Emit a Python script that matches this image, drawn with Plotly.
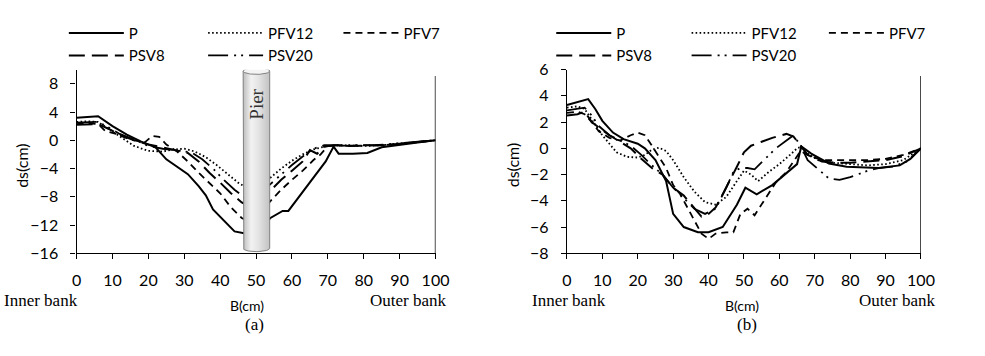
import numpy as np
import plotly.graph_objects as go

# ---------------- data: chart (a) ----------------
A_P_x = [0, 3, 6, 10, 14, 18, 22, 25, 28, 31, 34, 36, 38, 41, 44, 47, 50, 54, 57.4, 59, 64, 69.4, 71.6, 73, 77, 81, 85, 90, 95, 100]
A_P_y = [3.2, 3.3, 3.4, 2.0, 0.8, -0.2, -1.0, -2.7, -3.7, -4.8, -6.5, -7.8, -9.8, -11.3, -12.9, -13.2, -13.0, -11.0, -10.0, -10.0, -6.6, -3.0, -0.9, -1.9, -1.9, -1.8, -1.0, -0.6, -0.3, 0.0]

A_PFV12_x = [0, 3, 6, 9, 12, 16, 20, 24, 27, 30, 33, 36, 39, 42, 45, 47, 50, 54, 57, 60, 63, 66, 69, 72, 76, 80, 85, 90, 95, 100]
A_PFV12_y = [2.6, 2.7, 2.6, 1.6, 0.5, -0.8, -1.5, -1.6, -1.3, -1.2, -1.6, -2.4, -3.5, -4.8, -6.0, -6.6, -6.5, -5.3, -4.0, -2.9, -2.0, -1.3, -0.9, -0.7, -0.8, -0.8, -0.7, -0.5, -0.2, 0.0]

A_PFV7_x = [0, 3, 6, 8, 11, 15, 19, 21, 23, 25, 28, 31, 34, 37, 40, 43, 46, 48, 50, 54, 57, 60, 63, 66, 68, 70, 75, 80, 85, 90, 95, 100]
A_PFV7_y = [2.3, 2.4, 2.3, 1.3, 0.9, 0.1, -0.3, 0.6, 0.5, -0.6, -1.6, -3.0, -4.6, -6.0, -7.5, -9.5, -11.0, -11.5, -11.3, -8.6, -7.0, -5.6, -4.3, -2.8, -2.0, -0.8, -0.8, -0.8, -0.7, -0.5, -0.2, 0.0]

A_PSV8_x = [0, 3, 6, 9, 12, 16, 20, 24, 28, 31, 34, 37, 40, 43, 46, 48, 50, 54, 57, 60, 63, 65, 67, 69, 72, 76, 80, 85, 90, 95, 100]
A_PSV8_y = [2.2, 2.3, 2.3, 1.6, 0.8, 0.0, -0.6, -1.0, -1.4, -1.8, -3.0, -4.6, -6.0, -7.5, -8.8, -9.3, -9.2, -7.2, -5.6, -4.3, -3.0, -1.4, -1.9, -0.9, -0.7, -0.8, -0.8, -0.7, -0.5, -0.2, 0.0]

A_PSV20_x = [0, 3, 6, 9, 12, 16, 20, 24, 28, 32, 35, 38, 41, 44, 47, 50, 54, 57, 60, 63, 66, 69, 73, 78, 83, 88, 93, 97, 100]
A_PSV20_y = [2.5, 2.6, 2.6, 1.8, 0.9, 0.1, -0.8, -1.2, -1.4, -1.7, -2.7, -4.0, -5.6, -7.0, -8.2, -8.0, -6.2, -4.8, -3.5, -2.3, -1.2, -0.7, -0.7, -0.8, -0.7, -0.5, -0.3, -0.1, 0.0]

# ---------------- data: chart (b) ----------------
B_P_x = [0, 3, 6, 8, 10, 13, 16, 20, 22, 25, 28, 30, 33, 37, 40, 44, 48, 50.4, 53.6, 58, 62, 65, 66.2, 69, 74, 79, 88, 94, 97, 100]
B_P_y = [3.3, 3.5, 3.75, 3.0, 2.1, 1.2, 0.7, 0.35, 0.0, -0.9, -2.5, -5.0, -6.0, -6.4, -6.4, -6.0, -4.3, -3.0, -3.5, -2.8, -1.9, -1.2, 0.15, -0.4, -1.15, -1.4, -1.5, -1.3, -0.8, 0.0]

B_PFV12_x = [0, 3, 5, 7, 10, 14, 17, 20, 22, 24, 26, 28, 30, 33, 36, 39, 42, 45, 48, 50, 52, 54, 57, 60, 63, 65, 66, 68, 71, 75, 80, 85, 90, 95, 100]
B_PFV12_y = [3.1, 3.2, 3.0, 2.2, 1.0, -0.3, -0.65, -0.7, -0.5, -0.1, 0.05, -0.2, -0.9, -2.2, -3.3, -4.1, -4.3, -3.7, -2.5, -1.7, -2.0, -2.5, -1.8, -1.2, -0.5, 0.0, 0.1, -0.4, -0.9, -1.1, -1.2, -1.3, -1.2, -0.9, 0.0]

B_PFV7_x = [0, 3, 5, 7, 9, 12, 15, 18, 20, 22, 24, 26, 28, 30, 32, 35, 38, 40, 42, 45, 47, 49, 51, 53, 56, 59, 62, 64, 66, 68, 72, 76, 80, 85, 90, 95, 100]
B_PFV7_y = [2.7, 2.8, 2.6, 2.0, 1.3, 0.8, 0.6, 1.0, 1.2, 1.0, 0.2, -0.6, -1.5, -2.8, -3.5, -5.0, -6.5, -6.9, -6.5, -6.4, -6.4, -5.0, -4.6, -5.1, -3.8, -2.6, -1.8, -1.0, -0.2, -0.5, -0.9, -0.9, -0.9, -0.9, -0.8, -0.5, 0.0]

B_PSV8_x = [0, 3, 5, 7, 9, 12, 15, 18, 21, 24, 27, 30, 33, 36, 38, 40, 42, 44, 46, 48, 50, 52, 55, 58, 62, 64, 66, 68, 72, 76, 80, 85, 90, 95, 100]
B_PSV8_y = [2.5, 2.6, 2.8, 2.0, 1.6, 1.0, 0.5, 0.0, -0.8, -1.5, -2.0, -3.0, -3.6, -4.6, -5.2, -5.0, -4.5, -3.5, -2.5, -1.4, -0.3, 0.2, 0.5, 0.8, 1.1, 0.9, 0.2, -0.5, -1.0, -1.1, -1.1, -1.0, -0.9, -0.6, 0.0]

B_PSV20_x = [0, 3, 5, 7, 9, 12, 15, 18, 21, 24, 27, 30, 33, 36, 39, 42, 45, 47, 49, 51, 53, 56, 59, 62, 64, 66, 68, 71, 74, 77, 80, 85, 88, 92, 96, 100]
B_PSV20_y = [2.9, 3.0, 3.1, 2.5, 1.7, 1.0, 0.6, 0.2, -0.5, -1.3, -2.0, -3.0, -3.8, -4.6, -5.0, -4.6, -3.0, -1.8, -1.5, -1.5, -1.6, -0.8, 0.0, 0.6, 1.0, 0.2, -0.9, -1.6, -2.3, -2.4, -2.2, -1.7, -1.5, -1.4, -1.0, 0.0]

SERIES = ["P", "PFV12", "PFV7", "PSV8", "PSV20"]
X_TICKS = [0, 10, 20, 30, 40, 50, 60, 70, 80, 90, 100]
A_Y_TICKS = [-16, -12, -8, -4, 0, 4, 8]
B_Y_TICKS = [-8, -6, -4, -2, 0, 2, 4, 6]

# ---------------- styles ----------------
STY = {
    "P": dict(color="black", width=2.0, dash="solid"),
    "PFV12": dict(color="black", width=1.8, dash="1.6px,2.4px"),
    "PFV7": dict(color="black", width=1.8, dash="7px,5px"),
    "PSV8": dict(color="black", width=2.0, dash="16px,7px"),
    "PSV20": dict(color="black", width=1.8, dash="20px,6px,2px,5px,2px,6px"),
}
# legend column per series (left chart legends 1-3, right chart 4-6)
COL = {"P": 0, "PSV8": 0, "PFV12": 1, "PSV20": 1, "PFV7": 2}
ORDER = ["P", "PSV8", "PFV12", "PSV20", "PFV7"]

data_a = {"P": (A_P_x, A_P_y), "PFV12": (A_PFV12_x, A_PFV12_y), "PFV7": (A_PFV7_x, A_PFV7_y),
          "PSV8": (A_PSV8_x, A_PSV8_y), "PSV20": (A_PSV20_x, A_PSV20_y)}
data_b = {"P": (B_P_x, B_P_y), "PFV12": (B_PFV12_x, B_PFV12_y), "PFV7": (B_PFV7_x, B_PFV7_y),
          "PSV8": (B_PSV8_x, B_PSV8_y), "PSV20": (B_PSV20_x, B_PSV20_y)}

SANS = "Lato"
SERIF = "Liberation Serif"

fig = go.Figure()

def lname(i):
    return "legend" if i == 1 else f"legend{i}"

for name in ORDER:
    x, y = data_a[name]
    fig.add_trace(go.Scatter(x=x, y=y, mode="lines", name=name, line=STY[name],
                             xaxis="x", yaxis="y", legend=lname(1 + COL[name]), hoverinfo="skip"))
for name in ORDER:
    x, y = data_b[name]
    fig.add_trace(go.Scatter(x=x, y=y, mode="lines", name=name, line=STY[name],
                             xaxis="x2", yaxis="y2", legend=lname(4 + COL[name]), hoverinfo="skip"))

# ---------------- pier (illustration in chart a) ----------------
PIER_X0, PIER_X1 = 46.4, 53.8
PIER_TOP, PIER_BOT = 9.8, -15.3
PIER_RY = 0.47
cx = (PIER_X0 + PIER_X1) / 2
rx = (PIER_X1 - PIER_X0) / 2
t = np.linspace(np.pi, 2 * np.pi, 40)
body_x = [PIER_X0, PIER_X0] + list(cx + rx * np.cos(t)) + [PIER_X1, PIER_X1]
body_y = [PIER_TOP, PIER_BOT] + list(PIER_BOT + PIER_RY * np.sin(t)) + [PIER_BOT, PIER_TOP]
fig.add_trace(go.Scatter(x=body_x, y=body_y, mode="lines", fill="toself",
                         line=dict(color="#808080", width=1),
                         fillgradient=dict(type="horizontal",
                                           colorscale=[[0, "#bdbdbd"], [0.3, "#f2f2f2"], [0.55, "#e6e6e6"], [1, "#c2c2c2"]]),
                         xaxis="x", yaxis="y", showlegend=False, hoverinfo="skip"))
t2 = np.linspace(0, 2 * np.pi, 60)
fig.add_trace(go.Scatter(x=list(cx + rx * np.cos(t2)), y=list(PIER_TOP + PIER_RY * np.sin(t2)),
                         mode="lines", fill="toself", fillcolor="#f4f4f4",
                         line=dict(color="#808080", width=1),
                         xaxis="x", yaxis="y", showlegend=False, hoverinfo="skip"))

# ---------------- layout ----------------
W, H = 985, 356
XA = [73 / W, 439 / W]
XB = [573 / W, 934 / W]
YD = [1 - 257 / H, 1 - 63 / H]

axis_common = dict(showline=True, linecolor="black", linewidth=1.4, ticks="outside", ticklen=5,
                   tickcolor="black", tickwidth=1.4, showgrid=False, zeroline=False,
                   tickfont=dict(family=SANS, size=16, color="black"), fixedrange=True)

fig.update_layout(
    width=W, height=H, margin=dict(l=0, r=0, t=0, b=0),
    paper_bgcolor="white", plot_bgcolor="white",
    xaxis=dict(domain=XA, range=[0, 100], tickvals=X_TICKS, anchor="y", ticklabelstandoff=7, **axis_common),
    yaxis=dict(domain=YD, range=[-16, 10], tickvals=A_Y_TICKS, anchor="x", ticklabelstandoff=9, **axis_common),
    xaxis2=dict(domain=XB, range=[0, 100], tickvals=X_TICKS, anchor="y2", ticklabelstandoff=7, **axis_common),
    yaxis2=dict(domain=YD, range=[-8, 6], tickvals=B_Y_TICKS, anchor="x2", ticklabelstandoff=9, **axis_common),
    showlegend=True,
)

leg_x = [65, 207, 345, 562, 700, 840]
for i, px in enumerate(leg_x, start=1):
    fig.update_layout({lname(i): dict(x=px / W - 5 / W, y=1 - 7 / H, xanchor="left", yanchor="top",
                                      orientation="v", bgcolor="rgba(0,0,0,0)", itemwidth=55,
                                      tracegroupgap=0, font=dict(family=SANS, size=15, color="black"),
                                      itemclick=False, itemdoubleclick=False)})

# right frame lines at x = 100
for xr, yr in (("x", "y domain"), ("x2", "y2 domain")):
    fig.add_shape(type="line", xref=xr, yref=yr, x0=100, x1=100, y0=0, y1=0.965,
                  line=dict(color="black", width=1.4))

ann = []
def text(x, y, s, font, size, angle=0, xref="paper", yref="paper", color="black"):
    ann.append(dict(x=x, y=y, xref=xref, yref=yref, text=s, showarrow=False, textangle=angle,
                    xanchor="center", yanchor="middle", font=dict(family=font, size=size, color=color)))

text(17 / W, 1 - 165 / H, "ds(cm)", SANS, 16, angle=-90)
text(517 / W, 1 - 164 / H, "ds(cm)", SANS, 16, angle=-90)
text(37 / W, 1 - 307 / H, "Inner bank", SERIF, 17)
text(411 / W, 1 - 307 / H, "Outer bank", SERIF, 17)
text(247 / W, 1 - 312 / H, "B(cm)", SANS, 14)
text(254 / W, 1 - 332 / H, "(a)", SERIF, 17)
text(575 / W, 1 - 307 / H, "Inner bank", SERIF, 17)
text(910 / W, 1 - 307 / H, "Outer bank", SERIF, 17)
text(752 / W, 1 - 312 / H, "B(cm)", SANS, 14)
text(757 / W, 1 - 332 / H, "(b)", SERIF, 17)
text(50.1, 5.1, "Pier", SERIF, 19, angle=-90, xref="x", yref="y", color="#333333")
fig.update_layout(annotations=ann)

fig.write_html("out.html")
